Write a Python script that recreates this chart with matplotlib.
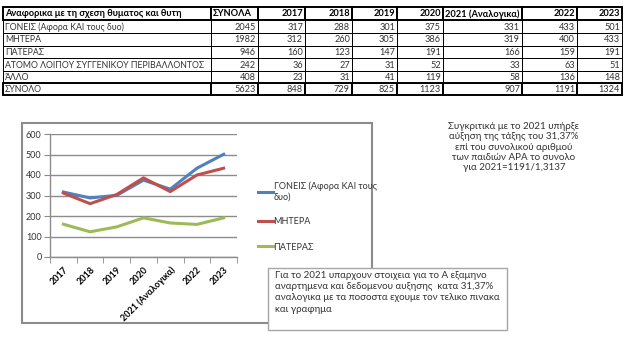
import matplotlib.pyplot as plt
from matplotlib.patches import Rectangle

plt.rcParams['font.family'] = ['Lato', 'DejaVu Sans']

# table data
header = ["Αναφορικα με τη σχεση θυματος και θυτη", "ΣΥΝΟΛΑ", "2017", "2018", "2019",
          "2020", "2021 (Αναλογικα)", "2022", "2023"]
row_labels = ["ΓΟΝΕΙΣ (Αφορα ΚΑΙ τους δυο)", "ΜΗΤΕΡΑ", "ΠΑΤΕΡΑΣ",
              "ΑΤΟΜΟ ΛΟΙΠΟΥ ΣΥΓΓΕΝΙΚΟΥ ΠΕΡΙΒΑΛΛΟΝΤΟΣ", "ΆΛΛΟ", "ΣΥΝΟΛΟ"]
row_totals = [2045, 1982, 946, 242, 408, 5623]
goneis = [317, 288, 301, 375, 331, 433, 501]
mitera = [312, 260, 305, 386, 319, 400, 433]
pateras = [160, 123, 147, 191, 166, 159, 191]
atomo = [36, 27, 31, 52, 33, 63, 51]
allo = [23, 31, 41, 119, 58, 136, 148]
synolo = [848, 729, 825, 1123, 907, 1191, 1324]

years = ["2017", "2018", "2019", "2020", "2021 (Αναλογικα)", "2022", "2023"]
legend_labels = ["ΓΟΝΕΙΣ (Αφορα ΚΑΙ τους\nδυο)", "ΜΗΤΕΡΑ", "ΠΑΤΕΡΑΣ"]
colors = ["#4F81BD", "#C0504D", "#9BBB59"]

note_right = ("Συγκριτικά με το 2021 υπήρξε\nαύξηση της τάξης του 31,37%\n"
              "επί του συνολικού αριθμού\nτων παιδιών ΑΡΑ το συνολο\nγια 2021=1191/1,3137")
note_box = ("Για το 2021 υπαρχουν στοιχεια για το Α εξαμηνο\n"
            "αναρτημενα και δεδομενου αυξησης  κατα 31,37%\n"
            "αναλογικα με τα ποσοστα εχουμε τον τελικο πινακα\n"
            "και γραφημα")

W, H = 624, 337
fig = plt.figure(figsize=(W / 100, H / 100), dpi=100)

# background layer in pixel coords: table and chart frame
bg = fig.add_axes([0, 0, 1, 1], zorder=0)
bg.set_xlim(0, W)
bg.set_ylim(H, 0)
bg.axis("off")

col_edges = [3, 211, 258, 305, 352, 397, 443, 522, 577, 622]
row_edges = [7, 20, 33, 46, 58, 71, 83, 95]

rows = [header]
values = [goneis, mitera, pateras, atomo, allo, synolo]
for lab, tot, vals in zip(row_labels, row_totals, values):
    rows.append([lab, str(tot)] + [str(v) for v in vals])

n_rows = len(rows)
for r in range(n_rows):
    y0, y1 = row_edges[r], row_edges[r + 1]
    thick = r == 0 or r == n_rows - 1
    for c in range(len(col_edges) - 1):
        x0, x1 = col_edges[c], col_edges[c + 1]
        bg.add_patch(Rectangle((x0, y0), x1 - x0, y1 - y0, fill=False,
                               edgecolor="black", lw=1.4 if thick else 0.7))
        txt = rows[r][c]
        ym = (y0 + y1) / 2 + 0.5
        if r == 0:
            left = c in (0, 1, 6)
            bg.text(x0 + 2 if left else x1 - 2, ym, txt, ha="left" if left else "right",
                    va="center", fontsize=6.7, fontweight="bold", color="black")
        elif c == 0:
            bg.text(x0 + 2, ym, txt, ha="left", va="center", fontsize=6.3, color="#333333")
        else:
            bg.text(x1 - 2, ym, txt, ha="right", va="center", fontsize=6.6, color="#333333")

# chart frame
bg.add_patch(Rectangle((22, 123), 350, 200, fill=False, edgecolor="#8c8c8c", lw=1.5))

# right-hand note
bg.text(514, 147, note_right, ha="center", va="center", fontsize=7,
        color="#333333", linespacing=1.2)

# line chart
ax = fig.add_axes([50 / W, 1 - 257 / H, 187 / W, 123 / H], zorder=1)
x = list(range(len(years)))
for series, lab, col in zip([goneis, mitera, pateras], legend_labels, colors):
    ax.plot(x, series, color=col, lw=2.2, label=lab)

ax.set_xlim(-0.5, len(years) - 0.5)
ax.set_ylim(0, 600)
ax.set_yticks(range(0, 601, 100))
ax.yaxis.grid(True, color="#8c8c8c", lw=1)
ax.set_axisbelow(True)
for s in ["top", "right"]:
    ax.spines[s].set_visible(False)
for s in ["left", "bottom"]:
    ax.spines[s].set_color("#8c8c8c")
    ax.spines[s].set_linewidth(1)
ax.tick_params(axis="y", length=4, color="#8c8c8c", labelsize=6.5, labelcolor="#333333", pad=2)
ax.set_xticks(x)
ax.set_xticklabels(years, rotation=45, ha="right", rotation_mode="anchor",
                   fontsize=6.5, fontweight="bold")
ax.set_xticks([i - 0.5 for i in range(len(years) + 1)], minor=True)
ax.tick_params(axis="x", which="major", length=0, pad=6)
ax.tick_params(axis="x", which="minor", length=4, color="#8c8c8c")

leg = ax.legend(loc="center left", bbox_to_anchor=(1.07, 0.33), frameon=False,
                fontsize=6.5, handlelength=1.6, handletextpad=0.1, labelspacing=1.8)
for t in leg.get_texts():
    t.set_color("#333333")

# bottom note box
top = fig.add_axes([0, 0, 1, 1], zorder=2)
top.set_xlim(0, W)
top.set_ylim(H, 0)
top.axis("off")
top.add_patch(Rectangle((268, 268), 239, 62, facecolor="white", edgecolor="#a6a6a6", lw=1))
top.text(275, 271, note_box, ha="left", va="top", fontsize=7, color="#333333",
         linespacing=1.32)

fig.savefig("out.png", dpi=100)
